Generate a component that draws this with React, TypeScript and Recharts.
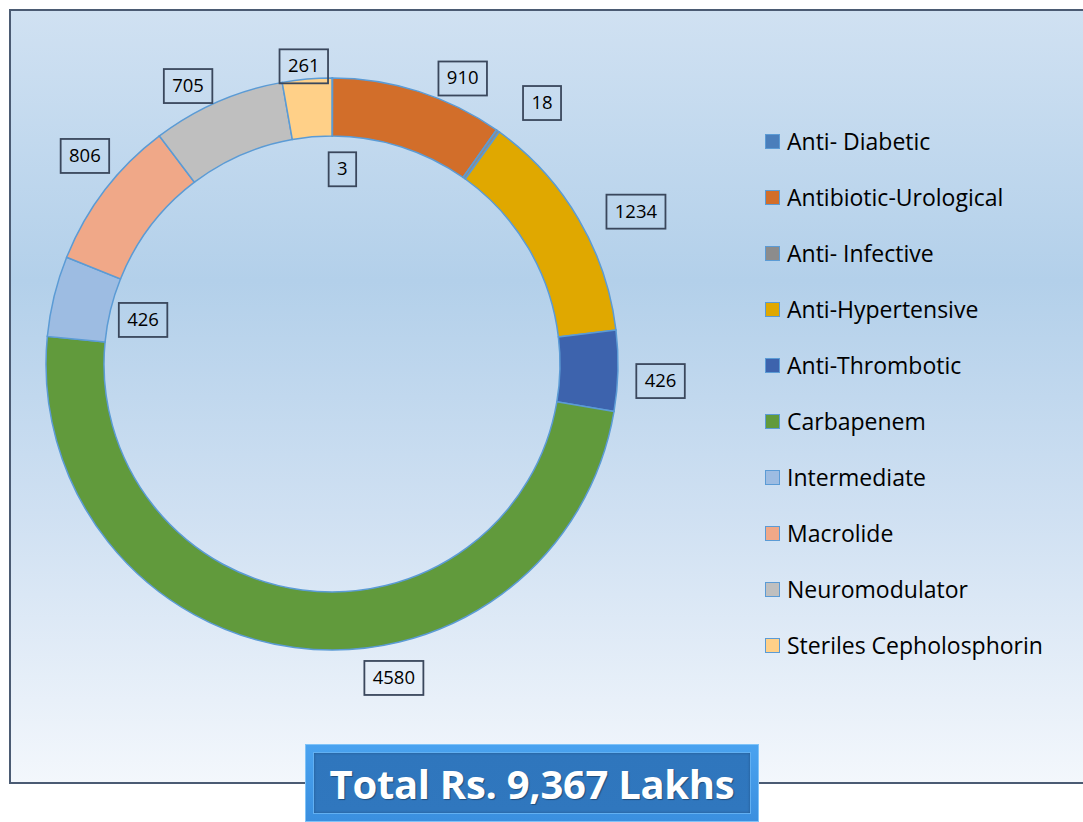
import React from 'react';
import { PieChart, Pie, Cell, Legend } from 'recharts';

const categories = [
  'Anti- Diabetic',
  'Antibiotic-Urological',
  'Anti- Infective',
  'Anti-Hypertensive',
  'Anti-Thrombotic',
  'Carbapenem',
  'Intermediate',
  'Macrolide',
  'Neuromodulator',
  'Steriles Cepholosphorin',
];
const sales = [3, 910, 18, 1234, 426, 4580, 426, 806, 705, 261];
const colors = [
  '#4a7ebb', '#d26e2a', '#8c8c8c', '#e0a800', '#3d63ad',
  '#619a3c', '#9dbce2', '#f0a888', '#bfbfbf', '#ffd088',
];
const totalLabel = 'Total Rs. 9,367 Lakhs';

// label placement (distance from centre, angle shift from slice middle), Excel-ish best fit
const labelRadius = [195, 314, 335, 340, 329, 320, 194, 323, 313, 299];
const labelShift = [-3, -7, -3.4, -3.9, -1.6, 18.7, 0.6, -2.7, 3.8, 0.4];

const data = categories.map((name, i) => ({ name, value: sales[i] }));

const RAD = Math.PI / 180;
const FONT = '"Open Sans", Lato, sans-serif';

const renderLabel = (props: any) => {
  const { cx, cy, midAngle, index, value } = props;
  const r = labelRadius[index];
  const a = midAngle + labelShift[index];
  const x = cx + r * Math.cos(-a * RAD);
  const y = cy + r * Math.sin(-a * RAD);
  const txt = String(value);
  const w = txt.length * 10.5 + 17;
  const h = 34;
  return (
    <g key={`lbl-${index}`}>
      <rect x={x - w / 2} y={y - h / 2} width={w} height={h} fill="none" stroke="#3a475c" strokeWidth={1.8} />
      <text x={x} y={y + 1} textAnchor="middle" dominantBaseline="middle" fontSize={18.5} fontFamily={FONT} fill="#000">
        {txt}
      </text>
    </g>
  );
};

const renderLegend = () => (
  <div style={{ fontFamily: FONT }}>
    {categories.map((name, i) => (
      <div key={name} style={{ display: 'flex', alignItems: 'center', height: 56 }}>
        <span
          style={{
            display: 'inline-block',
            width: 13,
            height: 13,
            background: colors[i],
            border: '1.5px solid #5b9bd5',
            marginRight: 7,
          }}
        />
        <span style={{ fontSize: 23, color: '#000', whiteSpace: 'nowrap' }}>{name}</span>
      </div>
    ))}
  </div>
);

export default function App() {
  return (
    <div style={{ position: 'absolute', left: 0, top: 0, width: 1083, height: 822, background: '#fff', overflow: 'hidden' }}>
      <div
        style={{
          position: 'absolute',
          left: 9,
          top: 9,
          width: 1090,
          height: 771,
          border: '2px solid #4b5b73',
          background: 'linear-gradient(to bottom, #d0e1f2 0%, #b3d0ea 35%, #cfe0f2 65%, #f3f7fc 100%)',
        }}
      />
      <div style={{ position: 'absolute', left: 0, top: 0 }}>
        <PieChart width={1083} height={822} margin={{ top: 0, right: 0, bottom: 0, left: 0 }}>
          <Pie
            data={data}
            dataKey="value"
            nameKey="name"
            cx={332}
            cy={364}
            innerRadius={228}
            outerRadius={286}
            startAngle={90}
            endAngle={-270}
            stroke="#5b9bd5"
            strokeWidth={1.5}
            label={renderLabel}
            labelLine={false}
            isAnimationActive={false}
          >
            {data.map((d, i) => (
              <Cell key={d.name} fill={colors[i]} />
            ))}
          </Pie>
          <Legend
            layout="vertical"
            verticalAlign="top"
            align="right"
            content={renderLegend}
            wrapperStyle={{ left: 765, top: 113, width: 318 }}
          />
        </PieChart>
      </div>
      <div
        style={{
          position: 'absolute',
          left: 305,
          top: 744,
          width: 454,
          height: 78,
          boxSizing: 'border-box',
          background: 'linear-gradient(to bottom, #4aa3f0, #3a8fdf)',
          border: '1px solid #7fc3f8',
        }}
      >
        <div
          style={{
            position: 'absolute',
            left: 7,
            top: 7,
            right: 7,
            bottom: 7,
            background: 'linear-gradient(to bottom, #2f76bd, #3077be)',
            border: '1px solid #62b0f2',
            boxShadow: 'inset 0 0 3px rgba(0,0,0,0.25)',
            display: 'flex',
            alignItems: 'center',
            justifyContent: 'center',
          }}
        >
          <span
            style={{
              fontFamily: FONT,
              fontWeight: 700,
              fontSize: 40,
              color: '#fff',
              textShadow: '1px 1px 1px rgba(0,0,0,0.35)',
              whiteSpace: 'nowrap',
              letterSpacing: -0.3,
            }}
          >
            {totalLabel}
          </span>
        </div>
      </div>
    </div>
  );
}
